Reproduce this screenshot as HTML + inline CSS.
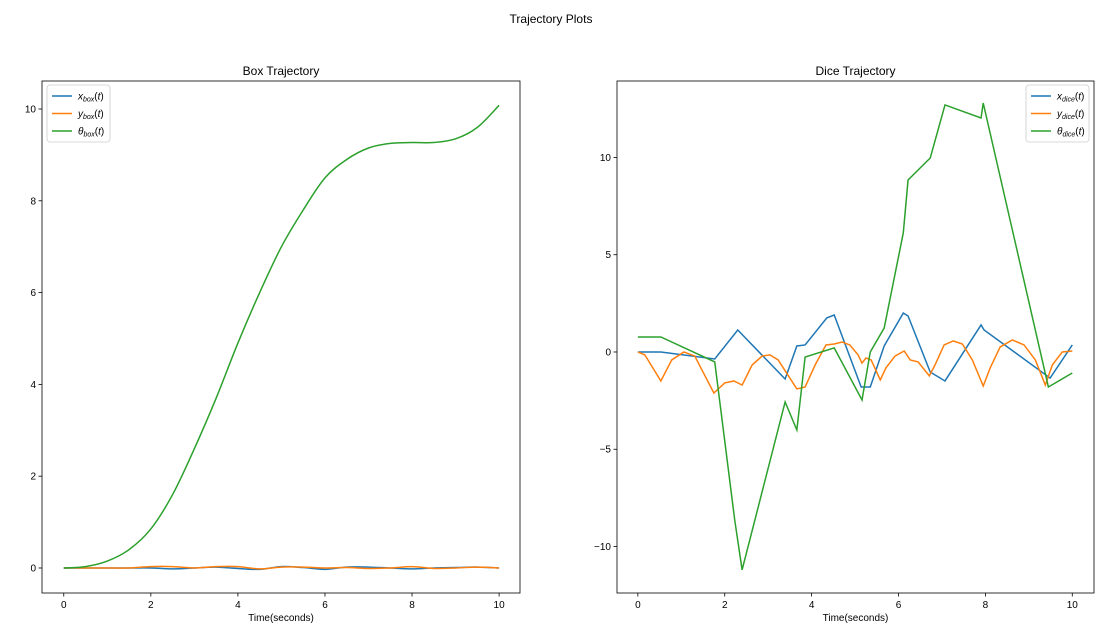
<!DOCTYPE html>
<html><head><meta charset="utf-8"><style>
body{margin:0;background:#fff;font-family:"Liberation Sans",sans-serif}
svg text{font-family:"Liberation Sans",sans-serif;fill:#000}
</style></head><body>
<svg id="c" width="1110" height="634" xmlns="http://www.w3.org/2000/svg">
<text x="551" y="23" text-anchor="middle" font-size="12">Trajectory Plots</text>
</svg>
<script>
const boxT=[0,0.5,1,1.5,2,2.5,3,3.5,4,4.5,5,5.5,6,6.5,7,7.5,8,8.5,9,9.5,10];
const boxTheta=[0,0.03,0.15,0.4,0.85,1.6,2.6,3.7,4.9,6.0,7.0,7.8,8.5,8.9,9.15,9.25,9.27,9.27,9.35,9.6,10.08];
const boxX=[0,0,0,0,0,-0.02,0,0.02,-0.01,-0.03,0.03,0.01,-0.03,0.02,0.02,0,-0.02,0,0.01,0.02,0];
const boxY=[0,0,0,0,0.03,0.03,0,0.03,0.03,-0.02,0.02,0.02,0,0.01,-0.01,0,0.03,-0.01,0,0.02,0];
const diceXT=[0,0.53,1.77,2.30,3.39,3.66,3.85,4.35,4.52,5.14,5.35,5.67,6.11,6.22,6.73,7.07,7.90,7.97,9.49,10.0];
const diceX=[0,0,-0.36,1.13,-1.39,0.31,0.36,1.75,1.90,-1.80,-1.80,0.31,2.0,1.85,-1.03,-1.49,1.39,1.13,-1.34,0.36];
const diceThT=[0,0.53,1.77,2.23,2.40,3.39,3.66,3.85,4.52,5.16,5.35,5.67,6.11,6.22,6.73,7.07,7.90,7.95,9.45,10.0];
const diceTh=[0.77,0.77,-0.51,-8.64,-11.2,-2.57,-4.01,-0.26,0.21,-2.47,0,1.23,6.12,8.84,9.97,12.7,12.03,12.8,-1.80,-1.08];
const diceYT=[0,0.16,0.53,0.78,1.06,1.31,1.75,2.00,2.21,2.40,2.63,2.86,3.04,3.23,3.66,3.85,4.08,4.33,4.52,4.70,4.88,5.07,5.16,5.25,5.37,5.58,5.71,5.92,6.13,6.27,6.45,6.71,6.84,7.05,7.26,7.47,7.70,7.95,8.11,8.34,8.62,8.89,9.15,9.38,9.54,9.77,10];
const diceY=[0,-0.15,-1.49,-0.41,0,-0.21,-2.11,-1.59,-1.49,-1.70,-0.67,-0.21,-0.15,-0.41,-1.90,-1.80,-0.67,0.36,0.41,0.51,0.36,-0.15,-0.57,-0.31,-0.41,-1.44,-0.82,-0.21,0.05,-0.41,-0.51,-1.23,-0.67,0.36,0.57,0.41,-0.41,-1.75,-0.82,0.26,0.62,0.36,-0.41,-1.70,-0.67,0,0.05];
const xTicks=[0,2,4,6,8,10];
const boxYTicks=[0,2,4,6,8,10];
const diceYTicks=[-10,-5,0,5,10];
const C=['#1f77b4','#ff7f0e','#2ca02c'];
const svg=document.getElementById('c');
const NS='http://www.w3.org/2000/svg';
function mk(tag,attrs,parent){const e=document.createElementNS(NS,tag);for(const k in attrs)e.setAttribute(k,attrs[k]);(parent||svg).appendChild(e);return e;}
function smoothPath(pts){let d='M'+pts[0][0]+','+pts[0][1];for(let i=0;i<pts.length-1;i++){const p0=pts[Math.max(0,i-1)],p1=pts[i],p2=pts[i+1],p3=pts[Math.min(pts.length-1,i+2)];d+=' C'+(p1[0]+(p2[0]-p0[0])/6)+','+(p1[1]+(p2[1]-p0[1])/6)+' '+(p2[0]-(p3[0]-p1[0])/6)+','+(p2[1]-(p3[1]-p1[1])/6)+' '+p2[0]+','+p2[1];}return d;}
function panel(o){
  const g=mk('g',{});
  
  
  const sx=v=>o.L+(v-o.x0)/(o.x1-o.x0)*(o.R-o.L);
  const sy=v=>o.B-(v-o.y0)/(o.y1-o.y0)*(o.B-o.T);
  const t=mk('text',{x:(o.L+o.R)/2,y:o.T-6,'text-anchor':'middle','font-size':12},g);t.textContent=o.title;
  
  o.series.forEach((s,i)=>{
    const pts=s.t.map((tt,j)=>[sx(tt),sy(s.v[j])]);
    const d=s.smooth?smoothPath(pts):'M'+pts.map(p=>p.join(',')).join(' L');
    const p=mk('path',{d:d,fill:'none',stroke:C[i],'stroke-width':1.5},g);
    
    
  });
  mk('rect',{x:o.L,y:o.T,width:o.R-o.L,height:o.B-o.T,fill:'none',stroke:'#000','stroke-width':0.8},g);
  xTicks.forEach(v=>{const x=sx(v);mk('line',{x1:x,x2:x,y1:o.B,y2:o.B+3.5,stroke:'#000','stroke-width':0.8},g);
    const tx=mk('text',{x:x,y:o.B+15,'text-anchor':'middle','font-size':10},g);tx.textContent=v;
    });
  o.yt.forEach(v=>{const y=sy(v);mk('line',{x1:o.L-3.5,x2:o.L,y1:y,y2:y,stroke:'#000','stroke-width':0.8},g);
    const tx=mk('text',{x:o.L-6,y:y+3.5,'text-anchor':'end','font-size':10},g);tx.textContent=v<0?'\u2212'+(-v):v;
    });
  const xl=mk('text',{x:(o.L+o.R)/2,y:o.B+28,'text-anchor':'middle','font-size':10},g);xl.textContent='Time(seconds)';
  
  const lg=mk('g',{},g);
  
  mk('rect',{x:o.lx,y:o.T+4,width:63,height:57,rx:3,fill:'#fff',stroke:'#ccc','stroke-width':0.8},lg);
  const labs=['x','y','θ'];
  labs.forEach((l,i)=>{const y=o.T+15+i*17.5;
    mk('line',{x1:o.lx+5,x2:o.lx+25,y1:y,y2:y,stroke:C[i],'stroke-width':1.5},lg);
    const tx=mk('text',{x:o.lx+31,y:y+3.5,'font-size':10},lg);
    
    tx.innerHTML='<tspan font-style="italic">'+l+'</tspan><tspan font-style="italic" font-size="7" dy="2">'+o.sub+'</tspan><tspan dy="-2">(</tspan><tspan font-style="italic">t</tspan><tspan>)</tspan>';});
}
panel({name:'box-trajectory-plot',title:'Box Trajectory',L:42,R:520,T:81,B:593,x0:-0.5,x1:10.48,y0:-0.545,y1:10.61,yt:boxYTicks,lx:47,sub:'box',
  series:[{name:'box-x-line',t:boxT,v:boxX,smooth:true},{name:'box-y-line',t:boxT,v:boxY,smooth:true},{name:'box-theta-line',t:boxT,v:boxTheta,smooth:true}]});
panel({name:'dice-trajectory-plot',title:'Dice Trajectory',L:617,R:1094,T:81,B:593,x0:-0.48,x1:10.5,y0:-12.39,y1:13.93,yt:diceYTicks,lx:1026,sub:'dice',
  series:[{name:'dice-x-line',t:diceXT,v:diceX},{name:'dice-y-line',t:diceYT,v:diceY},{name:'dice-theta-line',t:diceThT,v:diceTh}]});
</script>
</body></html>
